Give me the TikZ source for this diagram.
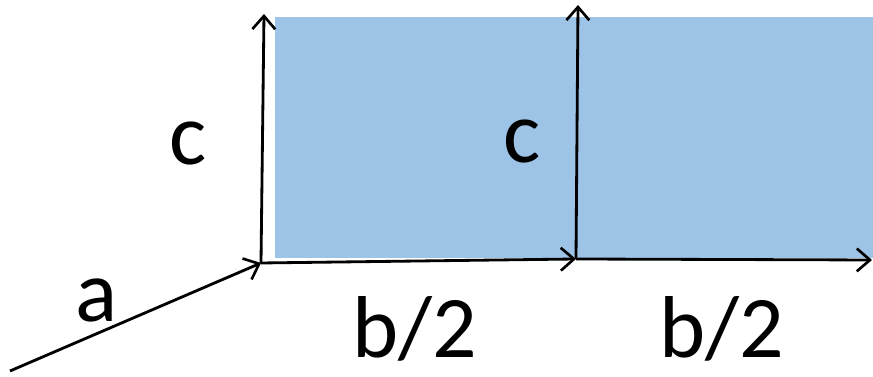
\documentclass[tikz,border=0pt]{standalone}
\usepackage{fontspec}
\setmainfont{Carlito}
\usepackage{tikz}
\usetikzlibrary{arrows.meta}
\definecolor{faceblue}{RGB}{157,195,230}
\tikzset{
  edgearrow/.style={draw=black, line width=1.6pt,
    -{Straight Barb[length=7.5pt, width=13pt, line width=1.5pt]}},
  dimlabel/.style={anchor=base, inner sep=0pt,
    font=\fontsize{50}{60}\selectfont},
}

\begin{document}
\begin{tikzpicture}[x=0.02cm, y=0.02cm]
\useasboundingbox (0,0) rectangle (873,377);
% shaded face (drawn first; the arrows lie on top)
\fill[faceblue] (275,119) rectangle (873,360);
% corner points
\coordinate (start) at (10,6);
\coordinate (corner) at (261,114);
\coordinate (top) at (264,363);
\coordinate (mid) at (576,118);
\coordinate (midtop) at (578,372);
\coordinate (far) at (872,117);
% arrows
\draw[edgearrow] (start) -- (corner);
\draw[edgearrow] (corner) -- (top);
\draw[edgearrow] (corner) -- (mid);
\draw[edgearrow] (mid) -- (midtop);
\draw[edgearrow] (mid) -- (far);
% labels
\node[dimlabel] (lblA) at (97,55) {a};
\node[dimlabel] (lblC) at (188,212) {c};
\node[dimlabel] (lblCmid) at (522,214) {c};
\node[dimlabel] (lblB) at (415,19) {b/2};
\node[dimlabel] (lblBfar) at (722,19) {b/2};
\end{tikzpicture}
\end{document}
